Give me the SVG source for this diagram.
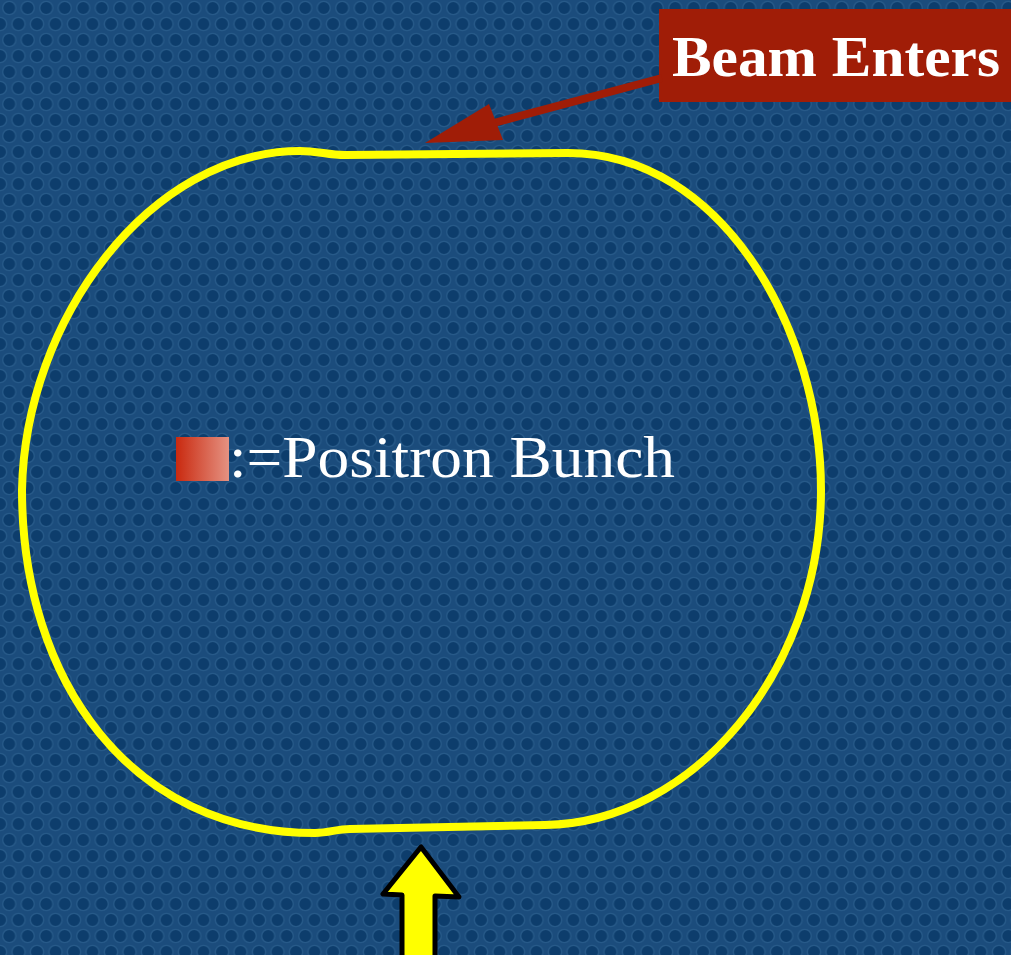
<svg xmlns="http://www.w3.org/2000/svg" width="1011" height="955" viewBox="0 0 1011 955">
<style>
.lbl{font-family:"Liberation Serif","Times New Roman",serif;fill:#ffffff}
.track{fill:none;stroke:#ffff00;stroke-width:8;stroke-linejoin:round}
</style>
<defs>
<pattern id="dots" width="18.5" height="32" patternUnits="userSpaceOnUse">
<rect width="18.5" height="32" fill="#1b4c7c"/>
<g fill="#0d3d6c" stroke="#275a89" stroke-width="1.3">
<circle cx="9.25" cy="8" r="6.6"/>
<circle cx="0" cy="24" r="6.6"/>
<circle cx="18.5" cy="24" r="6.6"/>
</g>
</pattern>
<linearGradient id="bunch" x1="0" y1="0" x2="1" y2="0">
<stop offset="0" stop-color="#c9290f"/>
<stop offset="1" stop-color="#e59282"/>
</linearGradient>
</defs>
<rect width="1011" height="955" fill="url(#dots)"/>
<g id="ring">
<path class="track" d="M 300,151 C 318,151 328,155 345,155 L 568,153 C 722,153 821,330 821,490 C 821,672 692,823 545,825 L 350,829 C 336,829 330,833 315,833 C 130,833 22,680 22,490 C 25,320 150,151 300,151 Z"/>
</g>
<g id="legend">
<rect x="176" y="437" width="53" height="44" fill="url(#bunch)"/>
<text class="lbl" x="229" y="477" font-size="59" textLength="446" lengthAdjust="spacingAndGlyphs">:=Positron Bunch</text>
</g>
<g id="beam-enters">
<rect x="659" y="9" width="352" height="93" fill="#a01d07"/>
<text class="lbl" x="672" y="76" font-size="56" font-weight="bold" textLength="328" lengthAdjust="spacingAndGlyphs">Beam Enters</text>
</g>
<g id="connectors">
<line x1="662" y1="78" x2="490" y2="124" stroke="#a01d07" stroke-width="8"/>
<polygon points="425,143 489,104 503,140" fill="#a01d07"/>
<polygon points="421,847 383,894 402,895 402,962 435,962 435,896 459,897" fill="#ffff00" stroke="#000000" stroke-width="5" stroke-linejoin="round"/>
</g>
</svg>
